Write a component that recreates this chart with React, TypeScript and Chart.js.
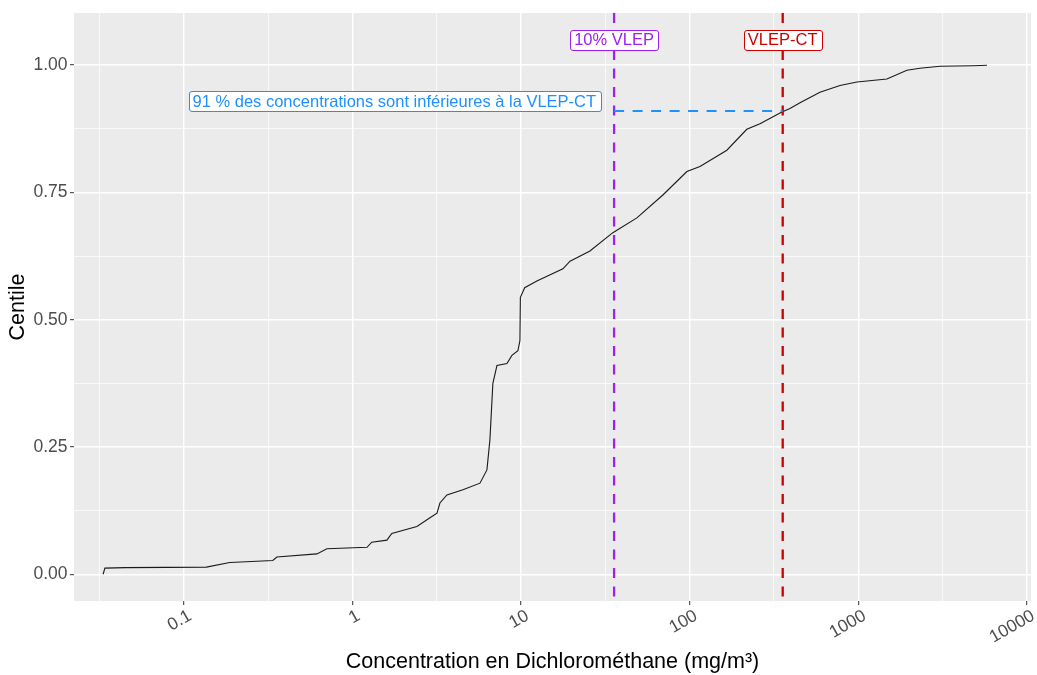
import React, { useEffect, useRef } from 'react';
import { Chart, registerables } from 'chart.js';

Chart.register(...registerables);

// ---- data ----
const CONC = [
  0.0332, 0.034, 0.045, 0.136, 0.187, 0.337, 0.356, 0.615, 0.705, 1.22, 1.3, 1.6, 1.71,
  2.41, 2.88, 3.17, 3.3, 3.63, 4.52, 5.7, 6.27, 6.53, 6.8, 7.19, 8.24, 8.82, 9.57, 9.84,
  9.9, 10.5, 12.4, 17.7, 19.5, 25.6, 35.0, 48.6, 69.3, 96.2, 115, 166, 218, 261, 352,
  393, 451, 592, 778, 981, 1477, 1941, 2319, 3048, 4786, 5794,
];
const CENTILE = [
  0.0, 0.012, 0.013, 0.014, 0.023, 0.027, 0.034, 0.04, 0.05, 0.053, 0.063, 0.067, 0.08,
  0.094, 0.111, 0.12, 0.14, 0.156, 0.166, 0.179, 0.205, 0.264, 0.375, 0.41, 0.414, 0.43,
  0.439, 0.459, 0.544, 0.563, 0.576, 0.6, 0.615, 0.635, 0.671, 0.7, 0.745, 0.791, 0.801,
  0.833, 0.874, 0.885, 0.908, 0.915, 0.926, 0.947, 0.96, 0.967, 0.973, 0.99, 0.994, 0.998,
  0.999, 1.0,
];
const X_TICKS = [0.1, 1, 10, 100, 1000, 10000];
const X_TICK_LABELS = ['0.1', '1', '10', '100', '1000', '10000'];
const X_MINOR = [0.0316, 0.316, 3.16, 31.6, 316, 3162];
const Y_TICKS = [0, 0.25, 0.5, 0.75, 1];
const Y_TICK_LABELS = ['0.00', '0.25', '0.50', '0.75', '1.00'];
const Y_MINOR = [0.125, 0.375, 0.625, 0.875];
const VLINE_VALUES = [35.6, 356];
const VLINE_LABELS = ['10% VLEP', 'VLEP-CT'];
const LABEL_Y = 1.05;
const SHARE_BELOW = 0.91;
const SHARE_TEXT = '91 % des concentrations sont inférieures à la VLEP-CT';
const X_TITLE = 'Concentration en Dichlorométhane (mg/m³)';
const Y_TITLE = 'Centile';
const X_MIN = 0.0223;
const X_MAX = 10568;
const Y_MIN = -0.0525;
const Y_MAX = 1.1025;

// ---- styles ----
const FONT = '"Liberation Sans", Arial, sans-serif';
const VLINE_COLORS = ['#A020F0', '#CD0000'];
const SHARE_COLOR = '#1E90FF';
const DASH = [10, 8.5];

function roundRect(ctx: CanvasRenderingContext2D, x: number, y: number, w: number, h: number, r: number) {
  ctx.beginPath();
  ctx.moveTo(x + r, y);
  ctx.lineTo(x + w - r, y);
  ctx.arcTo(x + w, y, x + w, y + r, r);
  ctx.lineTo(x + w, y + h - r);
  ctx.arcTo(x + w, y + h, x + w - r, y + h, r);
  ctx.lineTo(x + r, y + h);
  ctx.arcTo(x, y + h, x, y + h - r, r);
  ctx.lineTo(x, y + r);
  ctx.arcTo(x, y, x + r, y, r);
  ctx.closePath();
}

function drawLabel(ctx: CanvasRenderingContext2D, text: string, anchorX: number, cy: number, color: string, align: 'center' | 'right') {
  ctx.save();
  ctx.font = `16.5px ${FONT}`;
  const w = ctx.measureText(text).width;
  const padX = 4;
  const h = 20;
  const bw = w + 2 * padX;
  const left = align === 'center' ? anchorX - bw / 2 : anchorX - bw;
  const top = cy - h / 2;
  roundRect(ctx, Math.round(left) + 0.5, Math.round(top) + 0.5, Math.round(bw), h, 2.5);
  ctx.fillStyle = '#FFFFFF';
  ctx.fill();
  ctx.strokeStyle = color;
  ctx.lineWidth = 1;
  ctx.stroke();
  ctx.fillStyle = color;
  ctx.textAlign = 'left';
  ctx.textBaseline = 'middle';
  ctx.fillText(text, left + padX, cy + 1);
  ctx.restore();
}

export default function App() {
  const ref = useRef<HTMLCanvasElement>(null);

  useEffect(() => {
    const canvas = ref.current;
    if (!canvas) return;
    const isMajorX = (v: number) => X_TICKS.some((t) => Math.abs(Math.log10(t) - Math.log10(v)) < 1e-6);
    const isMajorY = (v: number) => Y_TICKS.some((t) => Math.abs(t - v) < 1e-6);

    const decor = {
      id: 'decor',
      beforeDraw(chart: any) {
        const { ctx, chartArea: a } = chart;
        ctx.save();
        ctx.fillStyle = '#FFFFFF';
        ctx.fillRect(0, 0, chart.width, chart.height);
        ctx.fillStyle = '#EBEBEB';
        ctx.fillRect(a.left, a.top, a.right - a.left, a.bottom - a.top);
        ctx.restore();
      },
      afterDatasetsDraw(chart: any) {
        const { ctx, chartArea: a } = chart;
        const xs = chart.scales.x;
        const ys = chart.scales.y;
        ctx.save();
        ctx.beginPath();
        ctx.rect(a.left, a.top, a.right - a.left, a.bottom - a.top);
        ctx.clip();
        ctx.lineCap = 'butt';
        ctx.setLineDash(DASH);
        // vertical reference lines
        VLINE_VALUES.forEach((v, i) => {
          const px = xs.getPixelForValue(v);
          ctx.strokeStyle = VLINE_COLORS[i];
          ctx.lineWidth = 2.3;
          ctx.beginPath();
          ctx.moveTo(px, a.top);
          ctx.lineTo(px, a.bottom);
          ctx.stroke();
        });
        // horizontal share line
        const hy = ys.getPixelForValue(SHARE_BELOW);
        ctx.strokeStyle = SHARE_COLOR;
        ctx.lineWidth = 2;
        ctx.beginPath();
        ctx.moveTo(xs.getPixelForValue(VLINE_VALUES[0]), hy);
        ctx.lineTo(xs.getPixelForValue(VLINE_VALUES[1]), hy);
        ctx.stroke();
        ctx.setLineDash([]);
        // labels
        VLINE_VALUES.forEach((v, i) => {
          drawLabel(ctx, VLINE_LABELS[i], xs.getPixelForValue(v), ys.getPixelForValue(LABEL_Y), VLINE_COLORS[i], 'center');
        });
        drawLabel(ctx, SHARE_TEXT, xs.getPixelForValue(VLINE_VALUES[0]) - 14, hy - 9.5, SHARE_COLOR, 'right');
        ctx.restore();
      },
      afterDraw(chart: any) {
        const { ctx, chartArea: a } = chart;
        const xs = chart.scales.x;
        ctx.save();
        // x tick labels, rotated 30°
        ctx.font = `17.5px ${FONT}`;
        ctx.fillStyle = '#4D4D4D';
        ctx.textAlign = 'right';
        ctx.textBaseline = 'top';
        X_TICKS.forEach((v, i) => {
          const px = xs.getPixelForValue(v);
          ctx.save();
          ctx.translate(px + 2, a.bottom + 6);
          ctx.rotate(-Math.PI / 6);
          ctx.fillText(X_TICK_LABELS[i], 0, 0);
          ctx.restore();
        });
        // axis titles
        ctx.fillStyle = '#000000';
        ctx.font = `21.5px ${FONT}`;
        ctx.textAlign = 'center';
        ctx.textBaseline = 'middle';
        ctx.fillText(X_TITLE, (a.left + a.right) / 2, 662);
        ctx.save();
        ctx.translate(18.5, (a.top + a.bottom) / 2);
        ctx.rotate(-Math.PI / 2);
        ctx.fillText(Y_TITLE, 0, 0);
        ctx.restore();
        ctx.restore();
      },
    };

    const chart = new Chart(canvas, {
      type: 'line',
      data: {
        datasets: [
          {
            data: CONC.map((x, i) => ({ x, y: CENTILE[i] })),
            borderColor: '#1a1a1a',
            borderWidth: 1.1,
            pointRadius: 0,
            fill: false,
            tension: 0,
          },
        ],
      },
      options: {
        animation: false,
        responsive: false,
        events: [],
        layout: { padding: { left: 0, top: 10, right: 6, bottom: 0 } },
        plugins: { legend: { display: false }, tooltip: { enabled: false } },
        scales: {
          x: {
            type: 'logarithmic',
            min: X_MIN,
            max: X_MAX,
            afterBuildTicks: (s: any) => {
              s.ticks = [...X_MINOR, ...X_TICKS].sort((p, q) => p - q).map((v) => ({ value: v }));
            },
            afterFit: (s: any) => {
              s.height = 74;
            },
            ticks: { display: false, autoSkip: false },
            grid: {
              color: '#FFFFFF',
              lineWidth: (c: any) => (c.tick && isMajorX(c.tick.value) ? 1.4 : 0.7),
              tickColor: (c: any) => (c.tick && isMajorX(c.tick.value) ? '#333333' : 'rgba(0,0,0,0)'),
              tickLength: 4,
              tickWidth: 1,
            },
            border: { display: false },
          },
          y: {
            type: 'linear',
            min: Y_MIN,
            max: Y_MAX,
            afterBuildTicks: (s: any) => {
              s.ticks = [...Y_MINOR, ...Y_TICKS].sort((p, q) => p - q).map((v) => ({ value: v }));
            },
            afterFit: (s: any) => {
              s.width = 74;
            },
            ticks: {
              autoSkip: false,
              padding: 2.5,
              color: '#4D4D4D',
              font: { family: FONT, size: 17.5 },
              callback: (v: any) => {
                const idx = Y_TICKS.findIndex((t) => Math.abs(t - Number(v)) < 1e-6);
                return idx >= 0 ? Y_TICK_LABELS[idx] : '';
              },
            },
            grid: {
              color: '#FFFFFF',
              lineWidth: (c: any) => (c.tick && isMajorY(c.tick.value) ? 1.4 : 0.7),
              tickColor: (c: any) => (c.tick && isMajorY(c.tick.value) ? '#333333' : 'rgba(0,0,0,0)'),
              tickLength: 4,
              tickWidth: 1,
            },
            border: { display: false },
          },
        },
      },
      plugins: [decor],
    } as any);

    return () => chart.destroy();
  }, []);

  return (
    <div style={{ position: 'absolute', left: 0, top: 0, width: 1037, height: 675 }}>
      <canvas ref={ref} width={1037} height={675} style={{ display: 'block' }} />
    </div>
  );
}
